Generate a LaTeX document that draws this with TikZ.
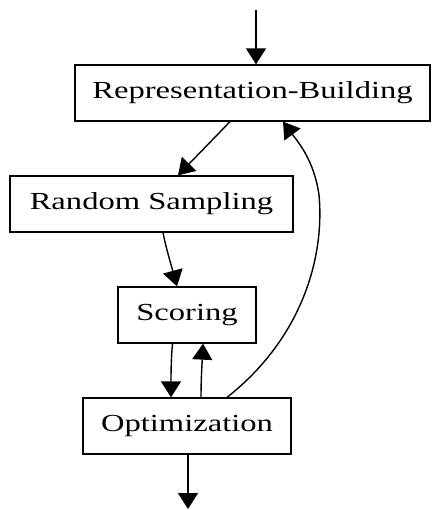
\documentclass[tikz,border=0pt]{standalone}
\usepackage{fontspec}
\setmainfont{Liberation Serif}[FakeStretch=1.33]
\usetikzlibrary{arrows.meta}
\begin{document}
\begin{tikzpicture}[x=1pt,y=-1pt,
  box/.style={draw, line width=1.3pt, rectangle, minimum height=56pt, inner sep=0pt,
    font=\fontsize{24.5}{28}\selectfont},
  edge/.style={line width=1.4pt, -{Triangle[width=20pt,length=16pt]}}]
\useasboundingbox (0,0) rectangle (431,510);
\node[box, minimum width=355pt] (RB) at (252.5,93) {Representation-Building};
\node[box, minimum width=283pt] (RS) at (151.5,204) {Random Sampling};
\node[box, minimum width=138pt] (SC) at (187,315) {Scoring};
\node[box, minimum width=208pt] (OP) at (187,426) {Optimization};
\coordinate (in) at (256,10);
\coordinate (out) at (188,509);
\coordinate (bend) at (319,195);
\draw[edge] (in) -- (in |- RB.north);
\draw[edge] ([xshift=-22.5pt]RB.south) -- ([xshift=26.5pt]RS.north);
\draw[edge] ([xshift=11.5pt]RS.south) .. controls (166,248) and (172,268) .. ([xshift=-10pt]SC.north);
\draw[edge] ([xshift=-14.5pt]SC.south) .. controls (171,360) and (171,375) .. ([xshift=-16pt]OP.north);
\draw[edge] ([xshift=14pt]OP.south |- OP.north) .. controls (201,380) and (202,365) .. ([xshift=16pt]SC.south);
\draw[edge] ([xshift=40pt]OP.north) .. controls (300,340) and (325,260) .. (bend)
  .. controls (314,160) and (298,142) .. ([xshift=30.5pt]RB.south);
\draw[edge] (OP.south -| out) -- (out);
\end{tikzpicture}
\end{document}
